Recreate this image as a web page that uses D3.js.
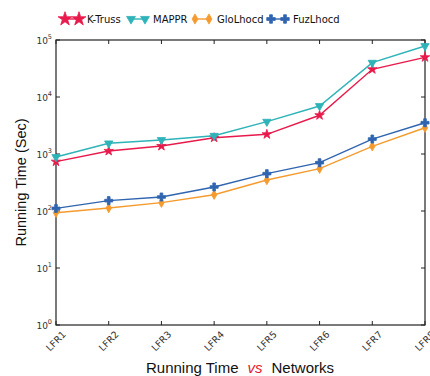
<!DOCTYPE html>
<html>
<head>
<meta charset="utf-8">
<script src="https://cdn.jsdelivr.net/npm/d3@7"></script>
<style>
  html, body { margin: 0; padding: 0; background: #fff; }
  svg { display: block; }
</style>
</head>
<body>
<svg id="chart" width="430" height="376"></svg>
<script>
// Networks on the x axis
const networks = ["LFR1", "LFR2", "LFR3", "LFR4", "LFR5", "LFR6", "LFR7", "LFR8"];
// Running time in seconds for each method
const kTruss   = [733, 1130, 1380, 1930, 2215, 4780, 30600, 49700];
const mappr    = [886, 1540, 1760, 2090, 3690, 6950, 40000, 78500];
const gloLhocd = [93, 113, 140, 193, 350, 553, 1365, 2890];
const fuzLhocd = [111, 152, 176, 264, 452, 704, 1830, 3540];
const yTicks = [1, 10, 100, 1000, 10000, 100000];

const series = [
  { name: "K-Truss",  values: kTruss,   color: "#e8194b", symbol: d3.symbolStar,     size: 28, legendSize: 60 },
  { name: "MAPPR",    values: mappr,    color: "#2db3b8", symbol: d3.symbolTriangle, size: 30, legendSize: 34, rotate: 180 },
  { name: "GloLhocd", values: gloLhocd, color: "#f59b2e", symbol: d3.symbolDiamond,  size: 26, legendSize: 30 },
  { name: "FuzLhocd", values: fuzLhocd, color: "#2f64b0", symbol: d3.symbolCross,    size: 36, legendSize: 40 }
];

const svg = d3.select("#chart");
const plotL = 56, plotR = 425, plotT = 40, plotB = 325;

const x = d3.scalePoint().domain(networks).range([plotL, plotR]);
const y = d3.scaleLog().domain([1, 100000]).range([plotB, plotT]);

// Frame
svg.append("rect")
  .attr("x", plotL).attr("y", plotT)
  .attr("width", plotR - plotL).attr("height", plotB - plotT)
  .attr("fill", "none").attr("stroke", "#222").attr("stroke-width", 1.2);

// Inward ticks on all four sides
const tickG = svg.append("g").attr("stroke", "#222").attr("stroke-width", 1);
networks.forEach(n => {
  tickG.append("line").attr("x1", x(n)).attr("x2", x(n)).attr("y1", plotB).attr("y2", plotB - 4);
  tickG.append("line").attr("x1", x(n)).attr("x2", x(n)).attr("y1", plotT).attr("y2", plotT + 4);
});
yTicks.forEach(t => {
  tickG.append("line").attr("x1", plotL).attr("x2", plotL + 4).attr("y1", y(t)).attr("y2", y(t));
  tickG.append("line").attr("x1", plotR).attr("x2", plotR - 4).attr("y1", y(t)).attr("y2", y(t));
});

// Y tick labels as powers of ten
yTicks.forEach(t => {
  const txt = svg.append("text")
    .attr("x", plotL - 4).attr("y", y(t) + 3.5)
    .attr("text-anchor", "end")
    .attr("font-family", "DejaVu Sans, sans-serif")
    .attr("font-size", 9).attr("fill", "#333");
  txt.append("tspan").text("10");
  txt.append("tspan").attr("dy", -4.5).attr("font-size", 6.5).text(Math.round(Math.log10(t)));
});

// X tick labels, rotated
networks.forEach(n => {
  svg.append("text")
    .attr("transform", `translate(${x(n)},${341}) rotate(-45)`)
    .attr("text-anchor", "middle").attr("dy", "0.35em")
    .attr("font-family", "DejaVu Sans, sans-serif")
    .attr("font-size", 9.5).attr("fill", "#333")
    .text(n);
});

// Axis titles
svg.append("text")
  .attr("transform", `translate(26,${(plotT + plotB) / 2}) rotate(-90)`)
  .attr("text-anchor", "middle")
  .attr("font-family", "Liberation Sans, Arial, sans-serif")
  .attr("font-size", 14.5).attr("fill", "#111")
  .text("Running Time (Sec)");

const xt = svg.append("text")
  .attr("x", 240).attr("y", 373)
  .attr("text-anchor", "middle")
  .attr("font-family", "Liberation Sans, Arial, sans-serif")
  .attr("font-size", 15).attr("fill", "#111");
xt.append("tspan").text("Running Time");
xt.append("tspan").attr("dx", 9).attr("fill", "#e8192c").attr("font-style", "italic").text("vs");
xt.append("tspan").attr("dx", 9).text("Networks");

// Lines and markers
const line = d3.line().x((d, i) => x(networks[i])).y(d => y(d));
series.forEach(s => {
  svg.append("path").datum(s.values)
    .attr("d", line).attr("fill", "none")
    .attr("stroke", s.color).attr("stroke-width", 1.4);
  svg.append("g").selectAll("path").data(s.values).join("path")
    .attr("d", d3.symbol(s.symbol, s.size))
    .attr("transform", (d, i) => `translate(${x(networks[i])},${y(d)}) rotate(${s.rotate || 0})`)
    .attr("fill", s.color).attr("stroke", s.color).attr("stroke-width", 0.8);
});

// Legend
const legendItems = [
  { x0: 65, tx: 87 },
  { x0: 131, tx: 153 },
  { x0: 195, tx: 217 },
  { x0: 271, tx: 293 }
];
series.forEach((s, k) => {
  const g = svg.append("g");
  const ly = 19, x0 = legendItems[k].x0, x1 = x0 + 14;
  g.append("line").attr("x1", x0).attr("x2", x1).attr("y1", ly).attr("y2", ly)
    .attr("stroke", s.color).attr("stroke-width", 1.4);
  [x0, x1].forEach(px => {
    g.append("path").attr("d", d3.symbol(s.symbol, s.legendSize))
      .attr("transform", `translate(${px},${ly}) rotate(${s.rotate || 0})`)
      .attr("fill", s.color).attr("stroke", s.color).attr("stroke-width", 0.8);
  });
  g.append("text").attr("x", legendItems[k].tx).attr("y", ly + 3.5)
    .attr("font-family", "DejaVu Sans, sans-serif")
    .attr("font-size", 10).attr("fill", "#111")
    .text(s.name);
});
</script>
</body>
</html>
